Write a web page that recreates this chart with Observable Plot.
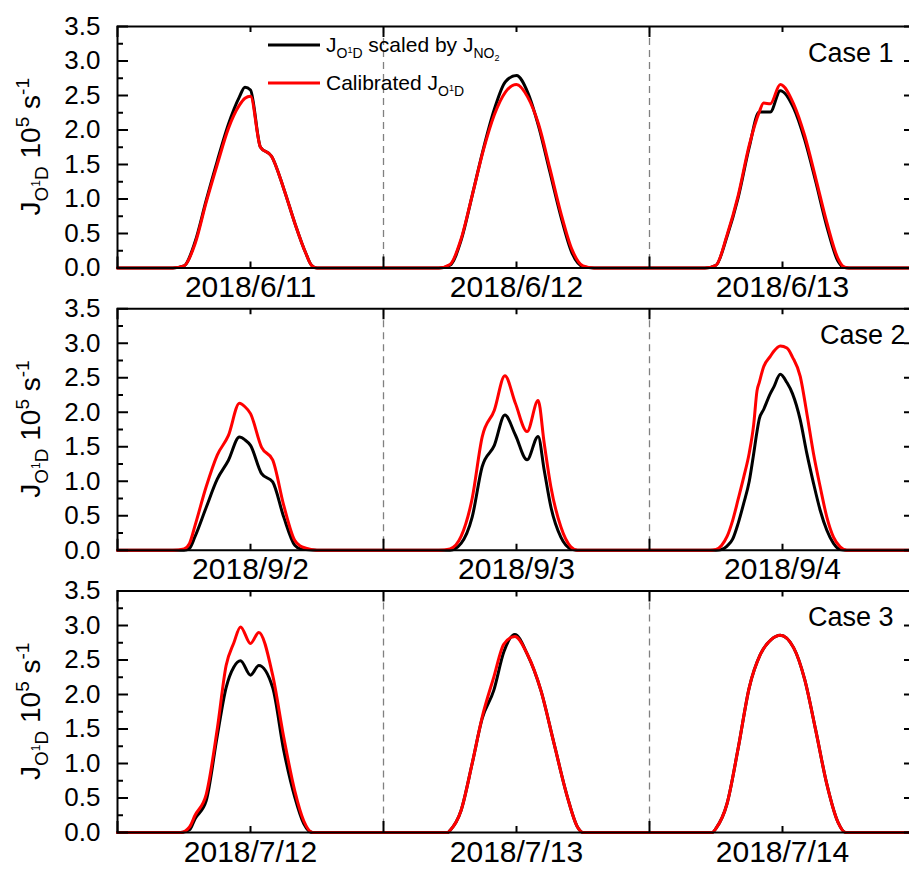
<!DOCTYPE html>
<html><head><meta charset="utf-8">
<script src="https://cdn.jsdelivr.net/npm/d3@7"></script>
<script src="https://cdn.jsdelivr.net/npm/@observablehq/plot@0.6"></script>
<style>
html, body { margin:0; padding:0; background:#fff; }
#chart { width:909px; height:870px; overflow:hidden; }
#chart svg { max-width:none !important; display:block; }
</style></head><body><div id="chart"></div>
<script>
// ---------- data ----------
const cases = ["Case 1", "Case 2", "Case 3"];
const case1Dates = ["2018/6/11", "2018/6/12", "2018/6/13"];
const case2Dates = ["2018/9/2", "2018/9/3", "2018/9/4"];
const case3Dates = ["2018/7/12", "2018/7/13", "2018/7/14"];
const dateTickHours = [12, 36, 60];
const dayBoundaries = [24, 48];
const yMajorTicks = [0, 0.5, 1, 1.5, 2, 2.5, 3, 3.5];
const yMinorTicks = [0.25, 0.75, 1.25, 1.75, 2.25, 2.75, 3.25];
const xMajorTicks = [0, 24, 48, 72];
const xMinorTicks = [12, 36, 60];

// Case 1
const c1d1Hours = [5, 6, 7, 8, 9, 10, 11, 11.5, 12, 12.9, 13.9, 15, 16, 17, 17.5, 18];
const c1d1Black = [0, 0.03, 0.38, 0.98, 1.55, 2.08, 2.48, 2.62, 2.58, 1.75, 1.62, 1.15, 0.65, 0.21, 0.04, 0];
const c1d1Red   = [0, 0.03, 0.35, 0.95, 1.5, 2.02, 2.36, 2.46, 2.49, 1.75, 1.62, 1.15, 0.65, 0.21, 0.04, 0];
const c1d2Hours = [5, 6, 7, 8, 9, 10, 11, 12, 13, 14, 15, 16, 17, 18, 19];
const c1d2Black = [0, 0.04, 0.4, 1.05, 1.72, 2.3, 2.7, 2.79, 2.55, 2.05, 1.4, 0.75, 0.22, 0.02, 0];
const c1d2Red   = [0, 0.05, 0.42, 1.05, 1.7, 2.22, 2.55, 2.66, 2.48, 2.08, 1.45, 0.8, 0.27, 0.03, 0];
const c1d3Hours = [5, 6, 7, 8, 9, 9.9, 10.3, 10.9, 11.8, 13, 14, 15, 16, 17, 17.5, 18];
const c1d3Black = [0, 0.04, 0.46, 1.02, 1.75, 2.26, 2.26, 2.26, 2.57, 2.32, 1.86, 1.25, 0.6, 0.1, 0.01, 0];
const c1d3Red   = [0, 0.04, 0.48, 1.05, 1.78, 2.26, 2.39, 2.38, 2.66, 2.38, 1.92, 1.3, 0.66, 0.14, 0.02, 0];

// Case 2
const c2d1Hours = [5, 6, 6.5, 7, 8, 9, 10, 11, 11.5, 12, 13, 14, 15, 16, 16.5, 17, 18];
const c2d1Black = [0, 0, 0.03, 0.2, 0.62, 1.03, 1.3, 1.64, 1.6, 1.52, 1.11, 0.99, 0.48, 0.07, 0.02, 0.01, 0];
const c2d1Red   = [0, 0.02, 0.1, 0.36, 0.92, 1.38, 1.66, 2.13, 2.08, 1.98, 1.49, 1.31, 0.65, 0.14, 0.06, 0.03, 0];
const c2d2Hours = [5, 6, 7, 8, 8.9, 10, 10.95, 11.9, 12.95, 13.95, 14.5, 15.1, 16, 16.9, 17.5];
const c2d2Black = [0, 0, 0.1, 0.48, 1.21, 1.52, 1.96, 1.67, 1.31, 1.65, 1.16, 0.63, 0.19, 0.02, 0];
const c2d2Red   = [0, 0.02, 0.2, 0.75, 1.64, 2.03, 2.53, 2.13, 1.72, 2.17, 1.55, 0.92, 0.34, 0.05, 0];
const c2d3Hours = [5.5, 6, 6.5, 7, 7.5, 8, 8.5, 9, 9.4, 9.7, 9.9, 10.3, 10.9, 11.2, 11.8, 12.4, 12.9, 13.6, 14.2, 14.8, 15.4, 16, 16.6, 17.2, 17.8];
const c2d3Black = [0, 0, 0.01, 0.06, 0.16, 0.39, 0.68, 1.0, 1.4, 1.72, 1.9, 2.04, 2.27, 2.36, 2.55, 2.43, 2.27, 1.89, 1.4, 0.97, 0.58, 0.29, 0.1, 0.01, 0];
const c2d3Red   = [0, 0.01, 0.07, 0.2, 0.43, 0.74, 1.06, 1.41, 1.82, 2.31, 2.43, 2.66, 2.81, 2.88, 2.96, 2.93, 2.8, 2.52, 1.98, 1.4, 0.92, 0.48, 0.19, 0.05, 0];

// Case 3
const c3d1Hours = [5, 5.7, 6.5, 7, 8, 9, 9.8, 10.5, 11.1, 12, 12.75, 14, 15, 16, 16.8, 17.6, 18];
const c3d1Black = [0, 0, 0.04, 0.2, 0.46, 1.4, 2.1, 2.4, 2.49, 2.28, 2.42, 2.1, 1.19, 0.51, 0.13, 0, 0];
const c3d1Red   = [0, 0, 0.08, 0.25, 0.55, 1.5, 2.42, 2.75, 2.98, 2.74, 2.9, 2.28, 1.38, 0.6, 0.17, 0, 0];
const c3d2Hours = [5, 5.8, 6, 7, 8, 8.9, 9.95, 10.86, 11.85, 12.96, 14.2, 15.4, 16.6, 17.5, 18];
const c3d2Black = [0, 0, 0.03, 0.32, 1.0, 1.65, 2.06, 2.62, 2.87, 2.59, 2.06, 1.28, 0.51, 0.08, 0];
const c3d2Red   = [0, 0, 0.03, 0.32, 1.0, 1.67, 2.25, 2.73, 2.84, 2.59, 2.06, 1.28, 0.51, 0.08, 0];
const c3d3Hours = [5, 5.65, 6, 7, 8, 9, 10, 11, 11.8, 13, 14, 15, 16, 17, 17.7, 18];
const c3d3Black = [0, 0, 0.06, 0.42, 1.22, 2.1, 2.58, 2.8, 2.86, 2.68, 2.22, 1.48, 0.7, 0.15, 0, 0];
const c3d3Red   = [0, 0, 0.06, 0.42, 1.22, 2.1, 2.58, 2.8, 2.86, 2.68, 2.22, 1.48, 0.7, 0.15, 0, 0];

// ---------- build tables ----------
function seriesRows(caseName, days) {
  const rows = [{case: caseName, t: 0, v: 0}];
  days.forEach(([hours, vals], i) => hours.forEach((h, j) => rows.push({case: caseName, t: 24 * i + h, v: vals[j]})));
  rows.push({case: caseName, t: 72, v: 0});
  return rows;
}
const blackRows = [
  ...seriesRows("Case 1", [[c1d1Hours, c1d1Black], [c1d2Hours, c1d2Black], [c1d3Hours, c1d3Black]]),
  ...seriesRows("Case 2", [[c2d1Hours, c2d1Black], [c2d2Hours, c2d2Black], [c2d3Hours, c2d3Black]]),
  ...seriesRows("Case 3", [[c3d1Hours, c3d1Black], [c3d2Hours, c3d2Black], [c3d3Hours, c3d3Black]])
];
const redRows = [
  ...seriesRows("Case 1", [[c1d1Hours, c1d1Red], [c1d2Hours, c1d2Red], [c1d3Hours, c1d3Red]]),
  ...seriesRows("Case 2", [[c2d1Hours, c2d1Red], [c2d2Hours, c2d2Red], [c2d3Hours, c2d3Red]]),
  ...seriesRows("Case 3", [[c3d1Hours, c3d1Red], [c3d2Hours, c3d2Red], [c3d3Hours, c3d3Red]])
];
const dateRows = [];
[case1Dates, case2Dates, case3Dates].forEach((labels, ci) =>
  labels.forEach((label, i) => dateRows.push({case: cases[ci], t: dateTickHours[i], label})));

const FONT = "'Liberation Sans', Arial, Helvetica, sans-serif";
const W = 915, H = 870, ML = 117, MR = 0, MT = 26, MB = 38, PAD = 0.1444;
const PW = W - ML - MR;                         // frame width
const FH = (H - MT - MB) / (3 - PAD) * (1 - PAD); // facet height
const MAJ = 11, MIN = 6;
const tk = {stroke: "black", strokeWidth: 2};

const plot = Plot.plot({
  width: W, height: H,
  marginLeft: ML, marginRight: MR, marginTop: MT, marginBottom: MB,
  x: {domain: [0, 72], axis: null},
  y: {domain: [0, 3.5], axis: null},
  fy: {domain: cases, paddingInner: PAD, paddingOuter: 0, round: false, axis: null},
  style: {fontFamily: FONT, fontSize: "26px", color: "black", background: "white"},
  marks: [
    Plot.ruleX(dayBoundaries, {stroke: "#808080", strokeWidth: 1.3, strokeDasharray: "7,5"}),
    Plot.line(blackRows, {x: "t", y: "v", fy: "case", stroke: "black", strokeWidth: 3, curve: "monotone-x"}),
    Plot.line(redRows, {x: "t", y: "v", fy: "case", stroke: "#ff0000", strokeWidth: 3, curve: "monotone-x"}),
    Plot.frame({stroke: "black", strokeWidth: 2}),
    // left axis labels
    Plot.axisY({anchor: "left", ticks: yMajorTicks, tickSize: 0, tickPadding: 17, tickFormat: d3.format(".1f"), label: null, fontSize: 26}),
    // inward ticks on all four sides
    Plot.tickY(yMajorTicks, {y: d => d, insetRight: PW - MAJ, ...tk}),
    Plot.tickY(yMinorTicks, {y: d => d, insetRight: PW - MIN, ...tk}),
    Plot.tickY(yMajorTicks, {y: d => d, insetLeft: PW - MAJ, ...tk}),
    Plot.tickY(yMinorTicks, {y: d => d, insetLeft: PW - MIN, ...tk}),
    Plot.tickX(xMajorTicks, {x: d => d, insetTop: FH - MAJ, ...tk}),
    Plot.tickX(xMinorTicks, {x: d => d, insetTop: FH - MIN, ...tk}),
    Plot.tickX(xMajorTicks, {x: d => d, insetBottom: FH - MAJ, ...tk}),
    Plot.tickX(xMinorTicks, {x: d => d, insetBottom: FH - MIN, ...tk}),
    Plot.text(dateRows, {x: "t", fy: "case", text: "label", frameAnchor: "bottom", lineAnchor: "bottom", dy: 29, fontSize: 30, fill: "black"}),
    Plot.text([{case: "Case 1"}, {case: "Case 3"}], {fy: "case", text: "case", frameAnchor: "top-right", textAnchor: "end", lineAnchor: "bottom", dx: -22, dy: 35, fontSize: 27, fill: "black"}),
    Plot.text([{case: "Case 2"}], {fy: "case", text: "case", frameAnchor: "top-right", textAnchor: "end", lineAnchor: "bottom", dx: -10, dy: 35, fontSize: 27, fill: "black"})
  ]
});
document.getElementById("chart").appendChild(plot);

// ---------- y titles and legend (rich text with sub/superscripts) ----------
const svg = d3.select(plot);
const fy = plot.scale("fy");
const bandTop = c => (fy && fy.apply) ? fy.apply(c) : MT + cases.indexOf(c) * (FH / (1 - PAD));

cases.forEach(c => {
  const top = bandTop(c);
  const t = svg.append("text")
    .attr("transform", `translate(40,${top + FH / 2}) rotate(-90)`)
    .attr("text-anchor", "middle").attr("font-family", FONT).attr("font-size", 28).attr("fill", "black");
  t.append("tspan").text("J");
  t.append("tspan").attr("font-size", 19).attr("dy", 8).text("O");
  t.append("tspan").attr("font-size", 12).attr("dy", -8).text("1");
  t.append("tspan").attr("font-size", 19).attr("dy", 8).text("D");
  t.append("tspan").attr("dy", -8).text(" 10");
  t.append("tspan").attr("font-size", 19).attr("dy", -11).text("5");
  t.append("tspan").attr("dy", 11).text(" s");
  t.append("tspan").attr("font-size", 19).attr("dy", -11).text("-1");
});

const top1 = bandTop("Case 1");
const lg = svg.append("g").attr("font-family", FONT).attr("fill", "black").attr("text-anchor", "start");
lg.append("line").attr("x1", 268).attr("x2", 320).attr("y1", top1 + 19).attr("y2", top1 + 19).attr("stroke", "black").attr("stroke-width", 3);
lg.append("line").attr("x1", 268).attr("x2", 320).attr("y1", top1 + 57).attr("y2", top1 + 57).attr("stroke", "#ff0000").attr("stroke-width", 3);
const l1 = lg.append("text").attr("x", 326).attr("y", top1 + 26).attr("font-size", 21).attr("text-anchor", "start");
l1.append("tspan").text("J");
l1.append("tspan").attr("font-size", 14).attr("dy", 6).text("O");
l1.append("tspan").attr("font-size", 9).attr("dy", -5).text("1");
l1.append("tspan").attr("font-size", 14).attr("dy", 5).text("D");
l1.append("tspan").attr("dy", -6).text(" scaled by J");
l1.append("tspan").attr("font-size", 14).attr("dy", 6).text("NO");
l1.append("tspan").attr("font-size", 9).attr("dy", 3).text("2");
const l2 = lg.append("text").attr("x", 326).attr("y", top1 + 64).attr("font-size", 21).attr("text-anchor", "start");
l2.append("tspan").text("Calibrated J");
l2.append("tspan").attr("font-size", 14).attr("dy", 6).text("O");
l2.append("tspan").attr("font-size", 9).attr("dy", -5).text("1");
l2.append("tspan").attr("font-size", 14).attr("dy", 5).text("D");
</script>
</body></html>
